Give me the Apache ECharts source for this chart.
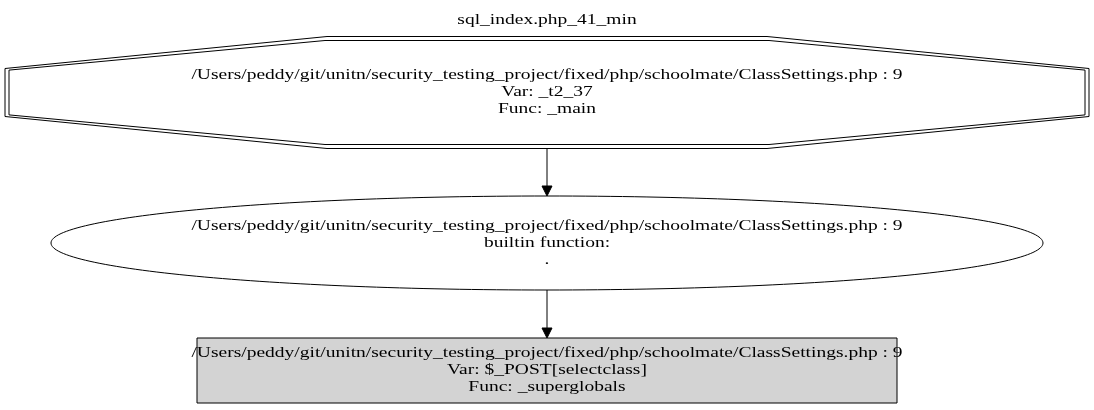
<!DOCTYPE html>
<html><head><meta charset="utf-8">
<script src="https://cdn.jsdelivr.net/npm/echarts@6/dist/echarts.min.js"></script>
<style>html,body{margin:0;padding:0;background:#fff}#c{width:1094px;height:410px}</style>
</head><body><div id="c"></div>
<script>
const title = "sql_index.php_41_min";
const nodeLabels = [
  ["/Users/peddy/git/unitn/security_testing_project/fixed/php/schoolmate/ClassSettings.php : 9","Var: _t2_37","Func: _main"],
  ["/Users/peddy/git/unitn/security_testing_project/fixed/php/schoolmate/ClassSettings.php : 9","builtin function:","."],
  ["/Users/peddy/git/unitn/security_testing_project/fixed/php/schoolmate/ClassSettings.php : 9","Var: $_POST[selectclass]","Func: _superglobals"]
];
const nodeShapes = ["doubleoctagon","ellipse","box"];
const edges = [[0,1],[1,2]];

const chart = echarts.init(document.getElementById('c'));
const F = '"Liberation Serif", "DejaVu Serif", serif';
const cx = 547;
const SX = 1.3;
const geo = [
  {cy:92.5, hw:542, hh:56},
  {cy:243, hw:496, hh:47},
  {cy:370.5, hw:350, hh:32.5}
];
const els = [];
function txt(t, y){
  return {type:'text', x:cx, y:y, scaleX:SX, scaleY:1,
    style:{text:t, x:0, y:0, align:'center', verticalAlign:'middle', font:'15px '+F, fill:'#000'}};
}
els.push(txt(title, 20));
function oct(g, d){
  const L=cx-g.hw+d, R=cx+g.hw-d, T=g.cy-g.hh+d, B=g.cy+g.hh-d;
  const ix=222-d*0.5, iy=32-d*0.6;
  return [[L,T+iy],[cx-g.hw+ix+100,T],[cx+g.hw-ix-100,T],[R,T+iy],[R,B-iy],[cx+g.hw-ix-100,B],[cx-g.hw+ix+100,B],[L,B-iy]];
}
nodeShapes.forEach((s,i)=>{
  const g = geo[i];
  if(s==='doubleoctagon'){
    els.push({type:'polygon', shape:{points:oct(g,0)}, style:{fill:'none', stroke:'#000', lineWidth:1}});
    els.push({type:'polygon', shape:{points:oct(g,4)}, style:{fill:'none', stroke:'#000', lineWidth:1}});
  } else if(s==='ellipse'){
    els.push({type:'ellipse', shape:{cx:cx, cy:g.cy, rx:g.hw, ry:g.hh}, style:{fill:'none', stroke:'#000', lineWidth:1}});
  } else {
    els.push({type:'rect', shape:{x:cx-g.hw, y:g.cy-g.hh, width:2*g.hw, height:2*g.hh}, style:{fill:'#d3d3d3', stroke:'#000', lineWidth:1}});
  }
  nodeLabels[i].forEach((t,k)=>{ els.push(txt(t, g.cy-17+k*17)); });
});
edges.forEach(([a,b])=>{
  const y1 = geo[a].cy+geo[a].hh, y2 = geo[b].cy-geo[b].hh;
  els.push({type:'line', shape:{x1:cx, y1:y1, x2:cx, y2:y2-10}, style:{stroke:'#000', lineWidth:1}});
  els.push({type:'polygon', shape:{points:[[cx-5,y2-10],[cx+5,y2-10],[cx,y2]]}, style:{fill:'#000', stroke:'#000'}});
});
chart.setOption({animation:false, graphic:{elements:els}});
</script></body></html>
